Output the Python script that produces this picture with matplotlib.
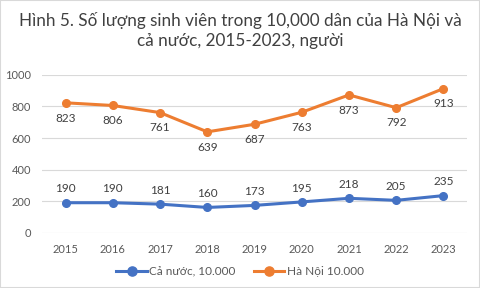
import matplotlib
matplotlib.use("Agg")
import matplotlib.pyplot as plt
from matplotlib.patches import Rectangle

plt.rcParams['font.family'] = ['Lato', 'DejaVu Sans']

# Data
years = ['2015', '2016', '2017', '2018', '2019', '2020', '2021', '2022', '2023']
ca_nuoc = [190, 190, 181, 160, 173, 195, 218, 205, 235]
ha_noi = [823, 806, 761, 639, 687, 763, 873, 792, 913]

blue = '#4472C4'
orange = '#ED7D31'
txt = '#595959'

fig = plt.figure(figsize=(4.8, 2.88), dpi=100)
ax = fig.add_axes([0.0875, 0.192, 0.8855, 0.548])

x = range(len(years))
ax.plot(x, ca_nuoc, color=blue, lw=2.2, marker='o', ms=5.5, label='Cả nước, 10.000')
ax.plot(x, ha_noi, color=orange, lw=2.2, marker='o', ms=5.5, label='Hà Nội 10.000')

# data labels: blue above, orange below
for i, v in enumerate(ca_nuoc):
    ax.annotate(str(v), (i, v), xytext=(0, 6), textcoords='offset points',
                ha='center', va='bottom', fontsize=8.5, color='#404040')
for i, v in enumerate(ha_noi):
    ax.annotate(str(v), (i, v), xytext=(0, -7), textcoords='offset points',
                ha='center', va='top', fontsize=8.5, color='#404040')

ax.set_xlim(-0.5, len(years) - 0.5)
ax.set_ylim(0, 1000)
ax.set_yticks(range(0, 1001, 200))
ax.set_xticks(list(x))
ax.set_xticklabels(years)
ax.grid(axis='y', color='#D9D9D9', lw=0.8)
ax.set_axisbelow(True)
for s in ax.spines.values():
    s.set_visible(False)
ax.tick_params(length=0, labelsize=8, colors=txt)
ax.tick_params(axis='y', pad=8)
ax.tick_params(axis='x', pad=8)

fig.text(0.5, 0.895, 'Hình 5. Số lượng sinh viên trong 10,000 dân của Hà Nội và\ncả nước, 2015-2023, người',
         ha='center', va='center', fontsize=12.3, color='#404040', linespacing=1.3)

fig.legend(loc='center', bbox_to_anchor=(0.5, 0.058), ncol=2, frameon=False,
           fontsize=8.5, labelcolor=txt, handlelength=2.6, columnspacing=1.5,
           handletextpad=0.2, markerscale=1.2)

fig.patches.append(Rectangle((0, 0), 1, 1, transform=fig.transFigure, fill=False,
                             edgecolor='#D9D9D9', lw=1.5))

fig.savefig('out.png', dpi=100)
